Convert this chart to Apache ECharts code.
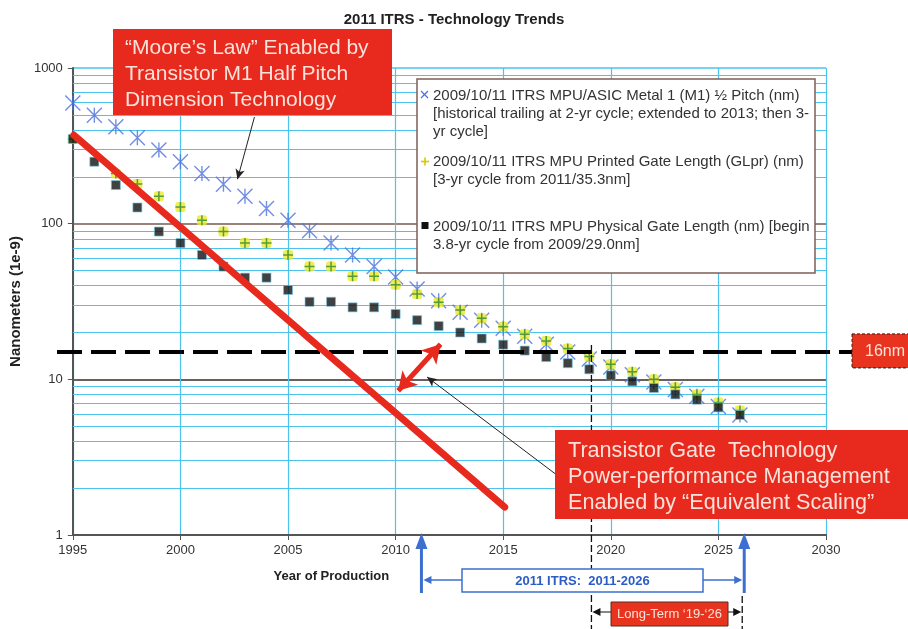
<!DOCTYPE html>
<html>
<head>
<meta charset="utf-8">
<title>2011 ITRS - Technology Trends</title>
<script src="https://cdn.jsdelivr.net/npm/echarts@6/dist/echarts.min.js"></script>
<style>
html, body { margin: 0; padding: 0; background: #fff; }
#main { width: 908px; height: 629px; }
</style>
</head>
<body>
<div id="main"></div>
<script>
// data
var years = [1995, 1996, 1997, 1998, 1999, 2000, 2001, 2002, 2003, 2004, 2005, 2006, 2007, 2008, 2009, 2010,
             2011, 2012, 2013, 2014, 2015, 2016, 2017, 2018, 2019, 2020, 2021, 2022, 2023, 2024, 2025, 2026];
var m1HalfPitch = [595, 498, 420, 356, 297, 250, 210, 179, 150, 125, 105, 90, 75, 63, 53, 45.5,
                   38, 32, 27, 24, 21.3, 18.9, 16.8, 15.0, 13.5, 12.0, 10.7, 9.6, 8.6, 7.8, 6.7, 5.9];
var printedGate = [350, null, 210, 180, 150, 128, 105, 89, 75, 75, 63, 53, 53, 46, 46, 40.5,
                   35.3, 31.3, 27.9, 24.7, 21.8, 19.5, 17.6, 15.8, 14.0, 12.5, 11.2, 10.0, 8.9, 8.0, 7.1, 6.3];
var physicalGate = [350, 250, 177, 127, 89, 75, 63, 53, 45, 45, 37.5, 31.5, 31.5, 29, 29, 26.3,
                    24, 22, 20, 18.3, 16.7, 15.3, 13.9, 12.7, 11.6, 10.6, 9.7, 8.8, 8.0, 7.4, 6.6, 5.9];
var minorLines = [2, 3, 4, 5, 6, 7, 8, 9, 20, 30, 40, 50, 60, 70, 80, 90, 200, 300, 400, 500, 600, 700, 800, 900];
var seriesNames = [
  '2009/10/11 ITRS MPU/ASIC Metal 1 (M1) ½ Pitch (nm)',
  '2009/10/11 ITRS MPU Printed Gate Length (GLpr) (nm)',
  '2009/10/11 ITRS MPU Physical Gate Length (nm)'
];
var legendLines = [
  ['2009/10/11 ITRS MPU/ASIC Metal 1 (M1) ½ Pitch (nm)',
   '[historical trailing at 2-yr cycle; extended to 2013; then 3-',
   'yr cycle]'],
  ['2009/10/11 ITRS MPU Printed Gate Length (GLpr) (nm)',
   '[3-yr cycle from 2011/35.3nm]'],
  ['2009/10/11 ITRS MPU Physical Gate Length (nm) [begin',
   '3.8-yr cycle from 2009/29.0nm]']
];
var FONT = 'Liberation Sans, Arial, Helvetica, sans-serif';
var RED = '#e8291d';
var BLUE = '#3d6fd0';
var GRIDBLUE = '#4cc3ec';

function pairs(vals) {
  var out = [];
  for (var i = 0; i < years.length; i++) {
    if (vals[i] != null) out.push([years[i], vals[i]]);
  }
  return out;
}

var starPath = 'path://M0,0L10,10M10,0L0,10M5,0L5,10';
var plusPath = 'path://M0,5L10,5M5,0L5,10';

var myChart = echarts.init(document.getElementById('main'));

var option = {
  animation: false,
  backgroundColor: '#fff',
  title: {
    text: '2011 ITRS - Technology Trends',
    left: 'center',
    top: 7,
    textStyle: { fontFamily: FONT, fontSize: 15, fontWeight: 'bold', color: '#222' }
  },
  grid: { left: 71, right: 82, top: 68, bottom: 94 },
  xAxis: {
    type: 'value',
    min: 1995,
    max: 2030,
    interval: 5,
    name: 'Year of Production',
    nameLocation: 'middle',
    nameGap: 35,
    nameTextStyle: { fontFamily: FONT, fontSize: 13, fontWeight: 'bold', color: '#222', padding: [0, 236, 0, 0] },
    axisLine: { lineStyle: { color: '#555', width: 2 } },
    axisTick: { length: 5, lineStyle: { color: '#555' } },
    axisLabel: { margin: 9, color: '#333', fontSize: 13, fontFamily: FONT, formatter: function (v) { return String(v); } },
    splitLine: { lineStyle: { color: GRIDBLUE, width: 1.2 } }
  },
  yAxis: {
    type: 'log',
    logBase: 10,
    min: 1,
    max: 1000,
    name: 'Nanometers (1e-9)',
    nameLocation: 'middle',
    nameRotate: 90,
    nameGap: 44,
    nameTextStyle: { fontFamily: FONT, fontSize: 15, fontWeight: 'bold', color: '#222' },
    axisLine: { show: true, lineStyle: { color: '#555', width: 2 } },
    axisTick: { length: 5, lineStyle: { color: '#555' } },
    axisLabel: { margin: 10, color: '#333', fontSize: 13, fontFamily: FONT, formatter: function (v) { return String(Math.round(v)); } },
    splitLine: { lineStyle: { color: ['#555', '#3b2a24', '#7a5a50', GRIDBLUE], width: 1.6 } }
  },
  series: [
    {
      name: seriesNames[0],
      type: 'scatter',
      silent: true,
      clip: false,
      data: pairs(m1HalfPitch),
      symbol: starPath,
      symbolSize: 15,
      itemStyle: { color: 'none', borderColor: '#4d72dc', borderWidth: 1.4 },
      // minor grid lines of the log scale
      markLine: {
        silent: true,
        z: 1,
        symbol: 'none',
        label: { show: false },
        lineStyle: { color: GRIDBLUE, width: 1.2, type: 'solid' },
        data: minorLines.map(function (v) { return { yAxis: v }; })
      }
    },
    {
      name: seriesNames[1],
      type: 'scatter',
      silent: true,
      clip: false,
      data: pairs(printedGate),
      symbol: 'roundRect',
      symbolSize: 10,
      itemStyle: { color: '#ecea2c' }
    },
    {
      name: seriesNames[1] + ' +',
      type: 'scatter',
      silent: true,
      clip: false,
      data: pairs(printedGate),
      symbol: plusPath,
      symbolSize: 10,
      itemStyle: { color: 'none', borderColor: '#2f8a33', borderWidth: 1.5 }
    },
    {
      name: seriesNames[2],
      type: 'scatter',
      silent: true,
      clip: false,
      data: pairs(physicalGate),
      symbol: 'rect',
      symbolSize: 9,
      itemStyle: { color: '#111', borderColor: '#6cc6e2', borderWidth: 0.8 },
      // annotation lines drawn on the chart scales
      markLine: {
        silent: true,
        z: 6,
        label: { show: false },
        data: [
          [{ coord: [1995.05, 371], symbol: 'none', lineStyle: { color: RED, width: 7, type: 'solid', cap: 'round' } },
           { coord: [2015.07, 1.51], symbol: 'none' }],
          [{ coord: [2010.12, 8.44], symbol: 'arrow', symbolSize: [16, 18], lineStyle: { color: RED, width: 5, type: 'solid' } },
           { coord: [2012.09, 16.8], symbol: 'arrow', symbolSize: [16, 18] }],
          [{ coord: [2003.44, 484], symbol: 'none', lineStyle: { color: '#222', width: 1, type: 'solid' } },
           { coord: [2002.65, 193], symbol: 'arrow', symbolSize: [7, 10] }],
          [{ coord: [2017.49, 2.43], symbol: 'none', lineStyle: { color: '#222', width: 1, type: 'solid' } },
           { coord: [2011.46, 10.35], symbol: 'arrow', symbolSize: [7, 10] }]
        ]
      }
    }
  ]
};

myChart.setOption(option);

// pixel helpers from the chart's own scales
function px(x, y) { return myChart.convertToPixel({ gridIndex: 0 }, [x, y]); }

var g = [];
var textFill = '#fbe2da';

// 16nm dashed line and box
var y16 = px(2000, 15)[1];
g.push({ type: 'line', z: 3, shape: { x1: 57, y1: y16, x2: 852, y2: y16 },
  style: { stroke: '#000', lineWidth: 4, lineDash: [25, 9] } });
g.push({ type: 'rect', z: 30, shape: { x: 852, y: y16 - 18, width: 60, height: 34 },
  style: { fill: '#e8341f', stroke: '#222', lineWidth: 1, lineDash: [3, 2] } });
g.push({ type: 'text', z: 31, x: 865, y: y16, style: { text: '16nm', fill: textFill, font: '16px ' + FONT, textVerticalAlign: 'middle' } });

// legend box
g.push({ type: 'rect', z: 30, shape: { x: 417, y: 79, width: 398, height: 194 },
  style: { fill: '#fff', stroke: '#7d5f57', lineWidth: 1.5 } });
var legendY = [[95.5, 113.5, 131.5], [162, 180], [227, 245]];
legendLines.forEach(function (lines, k) {
  lines.forEach(function (t, j) {
    g.push({ type: 'text', z: 31, x: 433, y: legendY[k][j],
      style: { text: t, fill: '#333', font: '15px ' + FONT, textVerticalAlign: 'middle' } });
  });
});
g.push({ type: 'line', z: 31, shape: { x1: 421, y1: 91, x2: 428, y2: 98 }, style: { stroke: '#4d72dc', lineWidth: 1.3 } });
g.push({ type: 'line', z: 31, shape: { x1: 428, y1: 91, x2: 421, y2: 98 }, style: { stroke: '#4d72dc', lineWidth: 1.3 } });
g.push({ type: 'line', z: 31, shape: { x1: 421, y1: 161.5, x2: 429, y2: 161.5 }, style: { stroke: '#d8c800', lineWidth: 1.6 } });
g.push({ type: 'line', z: 31, shape: { x1: 425, y1: 157.5, x2: 425, y2: 165.5 }, style: { stroke: '#d8c800', lineWidth: 1.6 } });
g.push({ type: 'rect', z: 31, shape: { x: 421.5, y: 222, width: 7, height: 7 }, style: { fill: '#111' } });

// Moore's law box
g.push({ type: 'rect', z: 30, shape: { x: 113, y: 29, width: 279, height: 86 }, style: { fill: RED } });
['\u201cMoore\u2019s Law\u201d Enabled by', 'Transistor M1 Half Pitch', 'Dimension Technology'].forEach(function (t, j) {
  g.push({ type: 'text', z: 31, x: 125, y: 48.5 + j * 26, style: { text: t, fill: textFill, font: '21px ' + FONT, textVerticalAlign: 'middle' } });
});

// transistor gate box
g.push({ type: 'rect', z: 30, shape: { x: 555, y: 430, width: 360, height: 89 }, style: { fill: RED } });
['Transistor Gate  Technology', 'Power-performance Management', 'Enabled by \u201cEquivalent Scaling\u201d'].forEach(function (t, j) {
  g.push({ type: 'text', z: 31, x: 568, y: 451 + j * 26, style: { text: t, fill: textFill, font: '21.6px ' + FONT, textVerticalAlign: 'middle' } });
});

// bottom: 2011 ITRS range
var xa = px(2011.2, 1)[0];
var xb = px(2026.2, 1)[0];
var xLT = px(2019.1, 1)[0];
[xa, xb].forEach(function (x) {
  g.push({ type: 'line', z: 20, shape: { x1: x, y1: 593, x2: x, y2: 546 }, style: { stroke: BLUE, lineWidth: 3 } });
  g.push({ type: 'polygon', z: 20, shape: { points: [[x - 6, 549], [x + 6, 549], [x, 533]] }, style: { fill: BLUE } });
});
g.push({ type: 'line', z: 20, shape: { x1: xa + 6, y1: 580, x2: xb - 6, y2: 580 }, style: { stroke: BLUE, lineWidth: 1.5 } });
g.push({ type: 'polygon', z: 20, shape: { points: [[xa + 2, 580], [xa + 10, 576], [xa + 10, 584]] }, style: { fill: BLUE } });
g.push({ type: 'polygon', z: 20, shape: { points: [[xb - 2, 580], [xb - 10, 576], [xb - 10, 584]] }, style: { fill: BLUE } });
g.push({ type: 'rect', z: 21, shape: { x: 462, y: 569, width: 241, height: 23 }, style: { fill: '#fff', stroke: BLUE, lineWidth: 1.5 } });
g.push({ type: 'text', z: 22, x: 582.5, y: 581, style: { text: '2011 ITRS:  2011-2026', fill: '#2c5cc5', font: 'bold 13px ' + FONT, textAlign: 'center', textVerticalAlign: 'middle' } });

// long-term dashed markers
g.push({ type: 'line', z: 4, shape: { x1: xLT, y1: 345, x2: xLT, y2: 629 }, style: { stroke: '#111', lineWidth: 1.3, lineDash: [7, 3] } });
g.push({ type: 'line', z: 4, shape: { x1: xb - 2, y1: 596, x2: xb - 2, y2: 629 }, style: { stroke: '#111', lineWidth: 1.3, lineDash: [7, 3] } });
g.push({ type: 'line', z: 20, shape: { x1: xLT + 4, y1: 612, x2: xb - 6, y2: 612 }, style: { stroke: '#111', lineWidth: 1.2 } });
g.push({ type: 'polygon', z: 20, shape: { points: [[xLT + 1, 612], [xLT + 9, 608], [xLT + 9, 616]] }, style: { fill: '#111' } });
g.push({ type: 'polygon', z: 20, shape: { points: [[xb - 3, 612], [xb - 11, 608], [xb - 11, 616]] }, style: { fill: '#111' } });
g.push({ type: 'rect', z: 21, shape: { x: 611, y: 602, width: 117, height: 24 }, style: { fill: '#e8341f', stroke: '#5a2a20', lineWidth: 1 } });
g.push({ type: 'text', z: 22, x: 669.5, y: 614, style: { text: 'Long-Term \u201819-\u201826', fill: textFill, font: '13px ' + FONT, textAlign: 'center', textVerticalAlign: 'middle' } });

myChart.setOption({ graphic: { elements: g } });
window.onresize = myChart.resize;
</script>
</body>
</html>
